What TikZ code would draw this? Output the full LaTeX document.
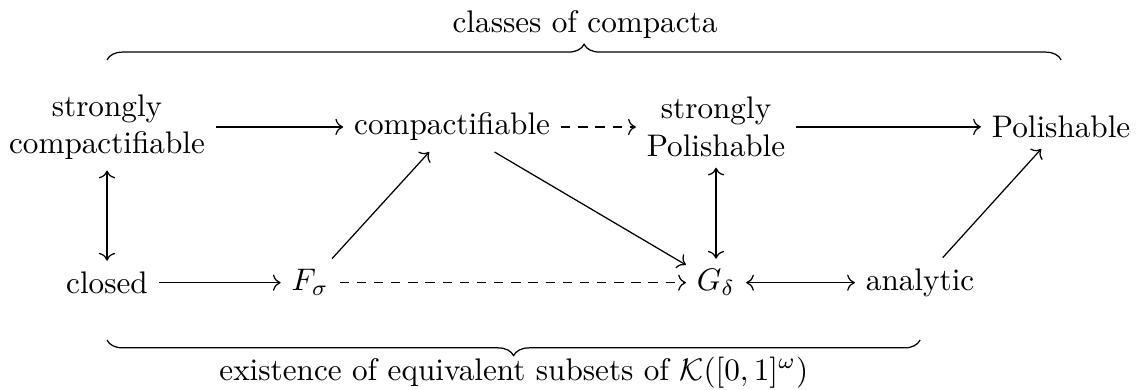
\documentclass[tikz,border=0pt]{standalone}
\usepackage{amsmath,amssymb}
\usetikzlibrary{arrows.meta,decorations.pathreplacing}

\begin{document}
\begin{tikzpicture}[x=1pt, y=1pt, >={Computer Modern Rightarrow},
  dasharrow/.style={->, dash pattern=on 3pt off 2.5pt},
  bracedeco/.style={decorate, decoration={brace, amplitude=5pt}}]
\useasboundingbox (0,0) rectangle (364.1,125);
\node[align=center] (sc) at (34.3,84.3) {strongly\\compactifiable};
\node (comp) at (144.9,84.3) {compactifiable};
\node[align=center] (sP) at (229.5,84.3) {strongly\\Polishable};
\node (P) at (340.1,84.3) {Polishable};
\node (closed) at (34.3,34.4) {closed};
\node (F) at (99.4,34.4) {$F_\sigma$};
\node (G) at (229.5,34.4) {$G_\delta$};
\node (an) at (294.9,34.4) {analytic};
\draw[->] (sc) -- (comp);
\draw[dasharrow] (comp) -- (sP);
\draw[->] (sP) -- (P);
\draw[<->] (sc) -- (closed);
\draw[<->] (sP) -- (G);
\draw[->] (closed) -- (F);
\draw[dasharrow] (F) -- (G);
\draw[<->] (G) -- (an);
\draw[->] (F) -- (comp);
\draw[->] (comp) -- (G);
\draw[->] (an) -- (P);
\coordinate (topL) at (34.3,105.8);
\coordinate (topR) at (340.1,105.8);
\coordinate (botL) at (34.3,16.0);
\coordinate (botR) at (294.9,16.0);
\draw[bracedeco] (topL) -- (topR);
\draw[bracedeco] (botR) -- (botL);
\node[anchor=base] (toplab) at (187.5,114.7) {classes of compacta};
\node[anchor=base] (botlab) at (164.7,3.2) {existence of equivalent subsets of $\mathcal{K}([0,1]^\omega)$};
\end{tikzpicture}
\end{document}
